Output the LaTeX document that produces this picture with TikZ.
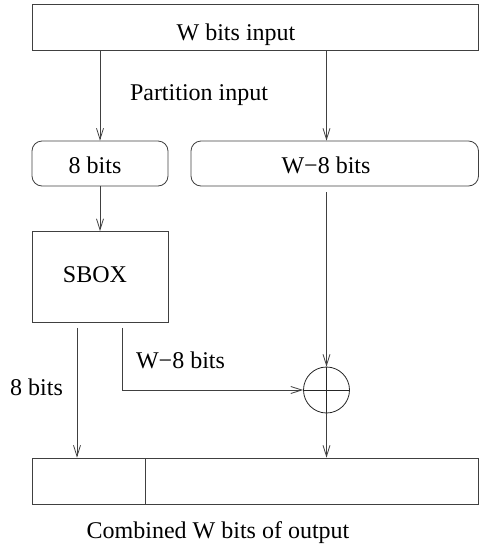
\documentclass[tikz,border=0pt]{standalone}
\usepackage{fontspec}
\setmainfont{Liberation Serif}
\usetikzlibrary{arrows.meta}
\begin{document}
\begin{tikzpicture}[x=1pt,y=-1pt,
  every node/.style={font=\fontsize{24}{28}\selectfont, inner sep=0pt},
  ln/.style={draw=black!75, line width=0.8pt},
  box/.style={ln, rectangle},
  rbox/.style={ln, rectangle, rounded corners=10pt},
  arr/.style={ln, -{Straight Barb[length=11pt,width=7pt,line width=0.8pt]}},
  lbl/.style={anchor=base, text=black}]
\useasboundingbox (0,0) rectangle (479,549);
% boxes
\node[box, minimum width=446.5pt, minimum height=46pt] (top) at (255.25,27) {};
\node[lbl] (tin) at (236,40) {W bits input};
\node[rbox, minimum width=136pt, minimum height=45pt] (b8) at (100,163.5) {};
\node[lbl] (t8) at (95,173) {8 bits};
\node[rbox, minimum width=287.5pt, minimum height=45pt] (bw) at (334.75,163.5) {};
\node[lbl] (tw) at (326,173) {W−8 bits};
\node[box, minimum width=136pt, minimum height=91pt] (sbox) at (100,277) {};
\node[lbl] (ts) at (95,282.5) {SBOX};
\node[draw=black!85, line width=0.8pt, circle, minimum size=46pt] (xor) at (326.5,390) {};
\node[box, minimum width=113pt, minimum height=46pt] (bl) at (88.5,481) {};
\node[box, minimum width=333.5pt, minimum height=46pt] (br) at (311.75,481) {};
% column coordinates
\coordinate (cr) at (326.5,0);
\coordinate (c1) at (77,0);
\coordinate (c2) at (122.5,0);
% connectors
\draw[arr] (top.south -| b8) -- (b8.north);
\draw[arr] (top.south -| cr) -- (bw.north -| cr);
\draw[arr] (b8.south) -- (sbox.north);
\draw[arr] ([yshift=-6pt]bw.south -| cr) -- (xor.north);
\draw[draw=black!85, line width=0.8pt] (xor.north) -- (xor.south) (xor.west) -- (xor.east);
\draw[arr] (xor.south) -- (br.north -| cr);
\draw[arr] ([yshift=-5pt]sbox.south -| c1) -- (bl.north -| c1);
\draw[arr] ([yshift=-5pt]sbox.south -| c2) |- (xor.west);
% labels
\node[lbl] (tp) at (199,100) {Partition input};
\node[lbl] (tw2) at (180.5,368) {W−8 bits};
\node[lbl] (t82) at (36.5,395) {8 bits};
\node[lbl] (tc) at (218,538) {Combined W bits of output};
\end{tikzpicture}
\end{document}
